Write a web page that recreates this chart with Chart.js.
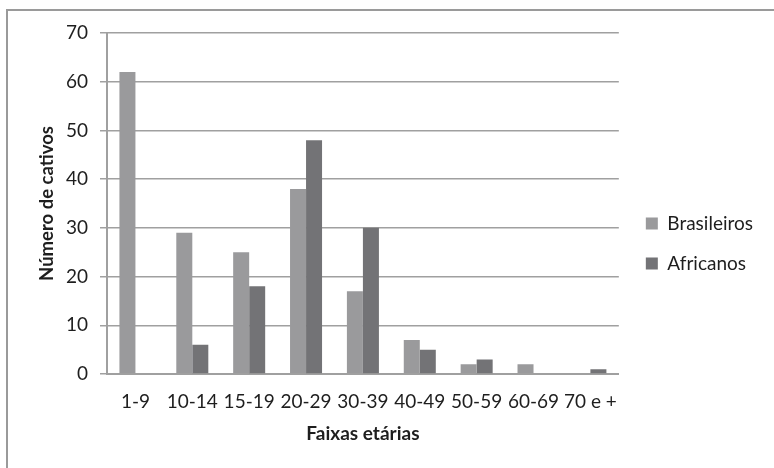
<!DOCTYPE html>
<html>
<head>
<meta charset="utf-8">
<script src="https://cdn.jsdelivr.net/npm/chart.js@4/dist/chart.umd.min.js"></script>
<style>
  html, body { margin: 0; padding: 0; background: #fff; }
  #wrap { position: relative; width: 774px; height: 468px; }
  #frame { position: absolute; left: 6px; top: 9px; right: 0; bottom: 0;
           border-left: 2px solid #9a9a9a; border-top: 2px solid #9a9a9a; }
  canvas { position: absolute; left: 0; top: 0; }
</style>
</head>
<body>
<div id="wrap">
  <div id="frame"></div>
  <canvas id="chart" width="774" height="468"></canvas>
</div>
<script>
const ageGroups = ['1-9', '10-14', '15-19', '20-29', '30-39', '40-49', '50-59', '60-69', '70 e +'];
const brasileiros = [62, 29, 25, 38, 17, 7, 2, 2, 0];
const africanos = [0, 6, 18, 48, 30, 5, 3, 0, 1];
const yTicks = [0, 10, 20, 30, 40, 50, 60, 70];

const gridGray = '#a0a0a0';
const textColor = '#1e1e1e';
const fontFamily = 'Lato';

// nudge the legend a bit to the right / up of where Chart.js puts it
const legendShift = {
  id: 'legendShift',
  afterLayout(chart) {
    const lg = chart.legend;
    if (!lg) return;
    lg.left += 6; lg.right += 6;
    lg.top -= 7; lg.bottom -= 7;
  }
};

new Chart(document.getElementById('chart'), {
  type: 'bar',
  data: {
    labels: ageGroups,
    datasets: [
      { label: 'Brasileiros', data: brasileiros, backgroundColor: '#9a9a9c' },
      { label: 'Africanos', data: africanos, backgroundColor: '#737376' }
    ]
  },
  plugins: [legendShift],
  options: {
    responsive: false,
    animation: false,
    devicePixelRatio: 1,
    layout: { padding: { left: 0, top: 33, right: 17, bottom: 0 } },
    datasets: { bar: { categoryPercentage: 0.563, barPercentage: 1 } },
    plugins: {
      tooltip: { enabled: false },
      legend: {
        position: 'right',
        labels: {
          color: textColor,
          font: { family: fontFamily, size: 19 },
          boxWidth: 12,
          boxHeight: 12,
          padding: 21
        }
      }
    },
    scales: {
      x: {
        afterFit: axis => { axis.height = 94; },
        grid: { display: false, drawOnChartArea: false, tickLength: 7, offset: true },
        border: { color: gridGray, width: 2 },
        ticks: { color: textColor, font: { family: fontFamily, size: 19 }, maxRotation: 0, padding: 9 },
        title: { display: true, text: 'Faixas etárias', color: textColor,
                 font: { family: fontFamily, size: 19, weight: 'bold' }, padding: { top: 0, bottom: 23 } }
      },
      y: {
        min: 0, max: 70,
        afterFit: axis => { axis.width = 107; },
        afterBuildTicks: axis => { axis.ticks = yTicks.map(v => ({ value: v })); },
        grid: { color: gridGray, lineWidth: 1.5, tickLength: 7 },
        border: { color: gridGray, width: 2 },
        ticks: { color: textColor, font: { family: fontFamily, size: 19 }, padding: 12 },
        title: { display: true, text: 'Número de cativos', color: textColor,
                 font: { family: fontFamily, size: 18.5, weight: 'bold' }, padding: { top: 36, bottom: 0 } }
      }
    }
  }
});
</script>
</body>
</html>
